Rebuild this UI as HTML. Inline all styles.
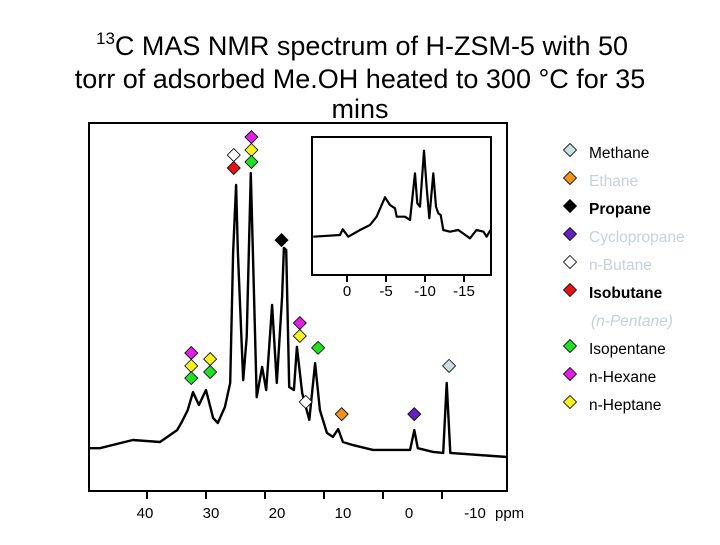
<!DOCTYPE html>
<html><head><meta charset="utf-8"><style>
body{margin:0;background:#fff;width:720px;height:540px;overflow:hidden;font-family:"Liberation Sans",sans-serif}
</style></head><body>
<svg id="c" width="720" height="540" xmlns="http://www.w3.org/2000/svg">
<g font-size="27" text-anchor="middle" fill="#000">
<text x="362" y="55"><tspan font-size="17" dy="-11">13</tspan><tspan dy="11">C MAS NMR spectrum of H-ZSM-5 with 50</tspan></text>
<text x="360" y="88">torr of adsorbed Me.OH heated to 300 °C for 35</text>
<text x="360" y="118">mins</text>
</g>
<rect x="89" y="123" width="418" height="368" fill="none" stroke="#000" stroke-width="2"/>
<rect x="312" y="137" width="179" height="138" fill="#fff" stroke="#000" stroke-width="2"/>
<g id="main"></g><g id="inset"></g><g id="legend"></g>
</svg>
<script>
// main spectrum data (ppm, intensity)
const mainPpm=[49.8,48.0,42.4,37.8,34.9,34.1,33.1,32.2,31.2,30.0,28.8,28.0,26.8,25.9,25.4,24.9,24.6,23.7,23.1,22.4,21.9,21.4,20.5,19.8,18.8,18.0,17.1,16.8,16.4,15.9,15.1,14.6,13.7,12.5,11.5,10.7,9.5,8.5,7.6,6.8,5.1,1.7,-4.6,-5.3,-5.9,-8.5,-10.2,-10.8,-11.4,-21.0];
const mainInt=[12.6,12.6,15.0,14.4,17.9,20.3,23.8,29.1,25.3,29.7,21.5,20.0,24.7,31.8,70.0,90.0,70.0,32.6,45.3,93.5,60.0,27.6,36.5,29.7,54.7,31.8,57.1,71.5,70.9,30.6,29.7,42.4,28.8,20.9,37.6,23.8,17.1,15.9,18.2,14.4,13.5,12.1,12.1,17.9,12.6,11.5,11.2,31.8,11.2,10.0];
const mainTicks=[40,30,20,10,0,-10];
const mainTickLabels=["40","30","20","10","0","-10"];
// inset data
const insetPpm=[4.32,0.9,0.55,-0.17,-1.67,-2.95,-3.8,-4.87,-5.51,-6.15,-6.37,-7.44,-8.08,-8.72,-9.01,-9.36,-9.87,-10.2,-10.55,-11.06,-11.41,-11.71,-12.01,-12.35,-13.2,-14.27,-15.77,-16.6,-17.5,-17.9,-18.4];
const insetInt=[38.3,40,45.7,38.3,45,50,58.3,77.7,70,66.7,58.3,58.3,55,101.7,71.7,68.3,124.3,88.3,56.7,101.7,68.3,61.7,60,45,43.3,45,36.7,45,43.3,38.3,45];
const insetTicks=[0,-5,-10,-15];
// peak markers (ppm, level, species)
const markerPpm=[32.5,32.5,32.5,29.3,29.3,25.3,25.3,22.3,22.3,22.3,17.2,14.1,14.1,11.0,13.1,7.0,-5.3,-11.2];
const markerLevel=[40.6,36.8,33.2,38.8,35.0,98.8,95.0,104.1,100.3,96.8,73.8,49.4,45.6,42.1,26.2,22.6,22.6,36.8];
const markerSpecies=["hex","hep","iso5","hep","iso5","nbut","isobut","hex","hep","iso5","prop","hex","hep","iso5","nbut","eth","cyc","meth"];
const speciesColor={meth:"#c9dfe3",eth:"#f0921c",prop:"#000",cyc:"#6420c0",nbut:"#fff",isobut:"#e41414",iso5:"#22e022",hex:"#e020e0",hep:"#f8f020"};
const legendNames=["Methane","Ethane","Propane","Cyclopropane","n-Butane","Isobutane","(n-Pentane)","Isopentane","n-Hexane","n-Heptane"];
const legendKeys=["meth","eth","prop","cyc","nbut","isobut",null,"iso5","hex","hep"];

const NS="http://www.w3.org/2000/svg";
const X=p=>383-5.9*p, Xl=v=>409-6.6*v, Y=i=>491-3.4*i;
const XI=p=>347-7.8*p, YI=i=>275-i;
function mk(t,a,par){const e=document.createElementNS(NS,t);for(const k in a)e.setAttribute(k,a[k]);par.appendChild(e);return e;}
const main=document.getElementById('main'),inset=document.getElementById('inset'),leg=document.getElementById('legend');

let d=mainPpm.map((p,i)=>(i?'L':'M')+X(p).toFixed(1)+' '+Y(mainInt[i]).toFixed(1)).join('');
const sp=mk('path',{d:d,fill:'none',stroke:'#000','stroke-width':2.4,'stroke-linejoin':'round'},main);


mainTicks.forEach((v,i)=>{
  const t=mk('line',{x1:X(v),x2:X(v),y1:491,y2:499,stroke:'#000','stroke-width':2},main);
  
  
  const l=mk('text',{x:Xl(v),y:518,'font-size':15,'text-anchor':'middle'},main);l.textContent=mainTickLabels[i];
  
  
});
const ppm=mk('text',{x:495,y:518,'font-size':15},main);ppm.textContent='ppm';



let di=insetPpm.map((p,i)=>(i?'L':'M')+XI(p).toFixed(1)+' '+YI(insetInt[i]).toFixed(1)).join('');
const ip=mk('path',{d:di,fill:'none',stroke:'#000','stroke-width':2.2,'stroke-linejoin':'round'},inset);


insetTicks.forEach(v=>{
  const t=mk('line',{x1:XI(v),x2:XI(v),y1:275,y2:282,stroke:'#000','stroke-width':2},inset);
  
  
  const l=mk('text',{x:XI(v),y:296,'font-size':15,'text-anchor':'middle'},inset);l.textContent=String(v);
  
  
});
function diamond(cx,cy,col,par){return mk('path',{d:`M${cx} ${cy-6.5}L${cx+6.5} ${cy}L${cx} ${cy+6.5}L${cx-6.5} ${cy}Z`,fill:col,stroke:'#000','stroke-width':0.8},par);}
markerPpm.forEach((p,i)=>{
  const m=diamond(X(p),Y(markerLevel[i]),speciesColor[markerSpecies[i]],main);
  
  
});
legendNames.forEach((n,i)=>{
  const y=153+28*i, k=legendKeys[i];
  if(k){const m=diamond(570,y-3,speciesColor[k],leg);
    
    }
  const light=["Ethane","Cyclopropane","n-Butane","(n-Pentane)"].includes(n);
  const bold=n==="Propane"||n==="Isobutane";
  const t=mk('text',{x:k?589:591,y:y+5,'font-size':15.5,fill:light?'#c5d2da':'#000','font-weight':bold?'bold':'normal','font-style':k?'normal':'italic'},leg);
  t.textContent=n;
  
  
});
</script>
</body></html>
